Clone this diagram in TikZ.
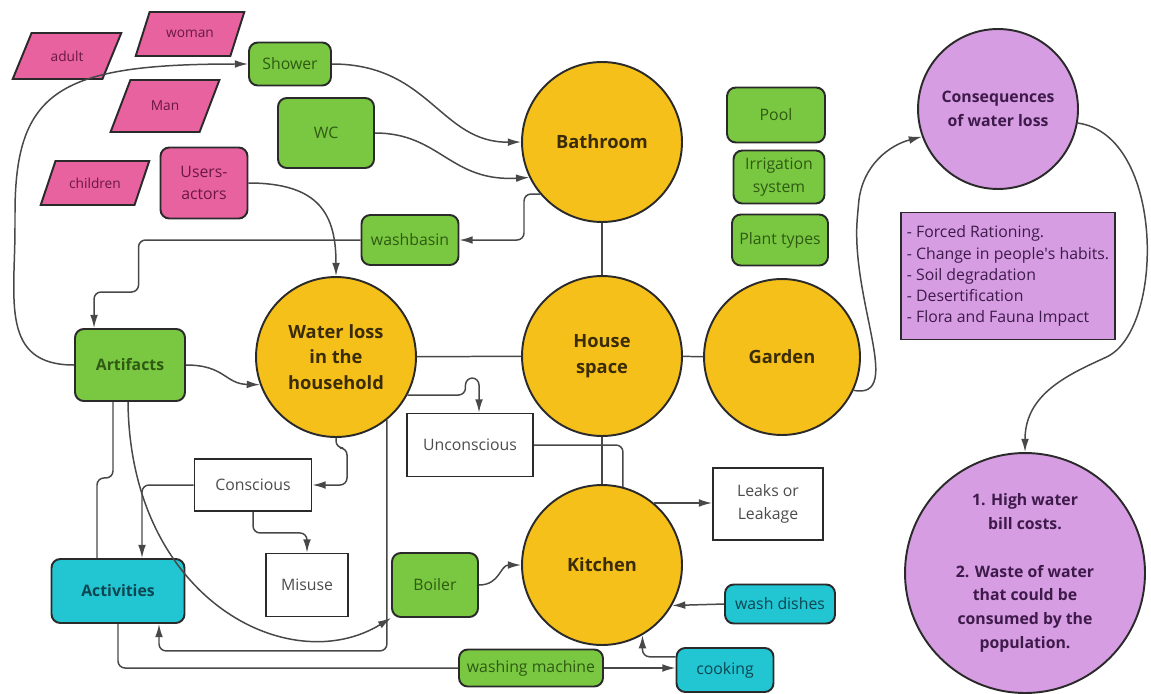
\documentclass[tikz,border=0pt]{standalone}
\usepackage{fontspec}
\setmainfont{Open Sans}
\usetikzlibrary{shapes.geometric,arrows.meta,calc}
\definecolor{sun}{HTML}{F6C01A}
\definecolor{sunink}{HTML}{3A2C08}
\definecolor{leaf}{HTML}{7AC842}
\definecolor{leafink}{HTML}{2E5A12}
\definecolor{rose}{HTML}{E862A0}
\definecolor{roseink}{HTML}{6A1843}
\definecolor{aqua}{HTML}{22C5D2}
\definecolor{aquaink}{HTML}{0D4651}
\definecolor{lilac}{HTML}{D79DE3}
\definecolor{lilacink}{HTML}{3E1A4A}
\definecolor{rim}{HTML}{2A2A2A}
\definecolor{wire}{HTML}{484848}

\begin{document}
\begin{tikzpicture}[
    x=0.02cm, y=-0.02cm,
    box/.style={rectangle, draw=rim, line width=1.1pt, rounded corners=5pt,
                inner sep=2pt, align=center, font=\fontsize{9}{13}\selectfont},
    gbox/.style={box, fill=leaf, text=leafink},
    cbox/.style={box, fill=aqua, text=aquaink},
    pbox/.style={box, fill=rose, text=roseink},
    wbox/.style={box, sharp corners, fill=white, text=black!70},
    para/.style={trapezium, trapezium left angle=62, trapezium right angle=118,
                 trapezium stretches=true, draw=rim, line width=1.1pt, fill=rose,
                 text=roseink, minimum width=2.18cm, minimum height=0.92cm,
                 font=\fontsize{7.8}{9}\selectfont},
    spot/.style={circle, draw=rim, line width=1.1pt, fill=sun, text=sunink,
                 minimum size=3.2cm, inner sep=0pt, align=center,
                 font=\fontsize{10.4}{14.5}\selectfont\bfseries},
    lspot/.style={spot, fill=lilac, text=lilacink,
                  font=\fontsize{9}{13.5}\selectfont\bfseries},
    note/.style={rectangle, draw=rim, line width=1.1pt, fill=lilac, text=lilacink,
                 align=left, font=\fontsize{9}{12}\selectfont},
    link/.style={draw=wire, line width=0.85pt, rounded corners=4pt},
    arr/.style={link, -{Latex[length=7.5pt, width=4.4pt]}}
]
  \useasboundingbox (0,0) rectangle (1151,693);

  % Users (top left)
  \node[para] (adult) at (67,56) {adult};
  \node[para, minimum height=0.88cm] (woman) at (190,34) {woman};
  \node[para, minimum height=1.04cm] (man) at (165,106) {Man};
  \node[para, minimum height=0.88cm] (child) at (95,183) {children};
  \node[pbox, minimum width=1.74cm, minimum height=1.42cm] (users) at (204,183) {Users-\\actors};

  % Bathroom and its artifacts
  \node[gbox, minimum width=1.64cm, minimum height=0.86cm] (shower) at (290,64) {Shower};
  \node[gbox, minimum width=1.92cm, minimum height=1.4cm] (wc) at (326,133) {WC};
  \node[gbox, minimum width=1.94cm, minimum height=1cm] (basin) at (410,240) {washbasin};
  \node[spot] (bath) at (602,142) {Bathroom};

  % Garden items
  \node[gbox, minimum width=1.96cm, minimum height=1.1cm] (pool) at (776,115) {Pool};
  \node[gbox, minimum width=1.82cm, minimum height=1.06cm] (irrig) at (779,177) {Irrigation\\system};
  \node[gbox, minimum width=1.92cm, minimum height=1.02cm] (plants) at (780,240) {Plant types};

  % Middle row
  \node[gbox, minimum width=2.2cm, minimum height=1.44cm, font=\fontsize{9}{13}\selectfont\bfseries] (artif) at (130,365) {Artifacts};
  \node[spot] (loss) at (336,357) {Water loss\\in the\\household};
  \node[spot] (house) at (602,356) {House\\space};
  \node[spot, minimum size=3.12cm] (garden) at (782,357) {Garden};

  % Consequences (right)
  \node[lspot] (conseq) at (998,109) {Consequences\\of water loss};
  \node[note, minimum width=4.2cm, minimum height=2.54cm] (list) at (1008,276)
    {- Forced Rationing.\\- Change in people\textquotesingle{}s habits.\\- Soil degradation\\- Desertification\\- Flora and Fauna Impact};
  \node[lspot, minimum size=4.8cm] (effects) at (1025,573)
    {1. High water\\bill costs.\\[13.5pt]2. Waste of water\\that could be\\consumed by the\\population.};

  % Lower part
  \node[wbox, minimum width=2.52cm, minimum height=1.26cm] (uncon) at (470,445) {Unconscious};
  \node[wbox, minimum width=2.34cm, minimum height=1.04cm] (consc) at (253,485) {Conscious};
  \node[wbox, minimum width=1.64cm, minimum height=1.26cm] (misuse) at (307,585) {Misuse};
  \node[wbox, minimum width=2.2cm, minimum height=1.44cm] (leaks) at (768,504) {Leaks or\\Leakage};
  \node[spot] (kitchen) at (602,565) {Kitchen};
  \node[gbox, minimum width=1.72cm, minimum height=1.28cm] (boiler) at (435,585) {Boiler};
  \node[cbox, minimum width=2.66cm, minimum height=1.28cm, font=\fontsize{9}{13}\selectfont\bfseries] (activ) at (118,591) {Activities};
  \node[cbox, minimum width=2.2cm, minimum height=0.78cm] (dishes) at (780,604) {wash dishes};
  \node[gbox, minimum width=2.88cm, minimum height=0.74cm] (washer) at (531,668) {washing machine};
  \node[cbox, minimum width=1.94cm, minimum height=0.88cm] (cook) at (725,670) {cooking};

  % Spaces joined together
  \draw[link] (bath) -- (house);
  \draw[link] (loss) -- (house);
  \draw[link] (house) -- (garden);
  \draw[link] (house) -- (kitchen);

  % Bathroom connectors
  \draw[arr] (artif.west) .. controls (0,365) and (15,300) .. (15,220)
             .. controls (15,90) and (60,64) .. (shower.west);
  \draw[arr] (shower.east) .. controls (430,64) and (440,143) .. (bath.west);
  \draw[arr] (wc.east) .. controls (440,133) and (450,182) .. (bath.206);
  \draw[arr] (bath.220) -- ++(-16,0) |- (basin.east);
  \draw[arr] (basin.west) -- ++(-222,0) -- ++(0,52) -| ($(artif.north west)+(20,0)$);
  \draw[arr] (users.east) .. controls (320,183) and (336,215) .. (loss.north);
  \draw[arr] (artif.east) .. controls (225,365) and (225,384) .. (loss.200);

  % Water loss: conscious / unconscious
  \draw[arr] (loss.-28) -| ++(58,-17) -| ($(uncon.north)+(9,0)$);
  \draw[arr] (loss.south) -- ++(0,10) -- ++(11,0) |- (consc.east);
  \draw[arr] (consc.west) -| ($(activ.north)+(24,0)$);
  \draw[arr] (consc.south) -- ++(0,21) -| (misuse.north);
  \draw[link] (uncon.east) -| (kitchen.75);
  \draw[arr] (loss.-51) -- ++(0,231) -| ($(activ.south)+(41,0)$);

  % Artifacts and activities
  \draw[link] ($(artif.south)+(-17,0)$) -- ++(0,76) -| ($(activ.north)+(-21,0)$);
  \draw[arr] ($(artif.south)+(-2,0)$) .. controls (130,600) and (290,680) .. (boiler.south west);
  \draw[link] (activ.south) |- (washer.west);

  % Kitchen connectors
  \draw[arr] (kitchen.50) -- (kitchen.50 -| leaks.west);
  \draw[arr] (boiler.east) .. controls (500,585) and (500,565) .. (kitchen.west);
  \draw[arr] (dishes.west) -- (kitchen.-30);
  \draw[arr] (cook.165) -| (kitchen.-60);
  \draw[arr] (washer.east) -- (washer.east -| cook.west);

  % Garden to consequences
  \draw[arr] (garden.335) .. controls (905,400) and (850,300) .. (858,210)
             .. controls (862,165) and (890,145) .. (conseq.200);
  \draw[arr] (conseq.-10) .. controls (1165,135) and (1165,330) .. (1100,360)
             .. controls (1057,380) and (1025,400) .. (effects.north);
\end{tikzpicture}
\end{document}
